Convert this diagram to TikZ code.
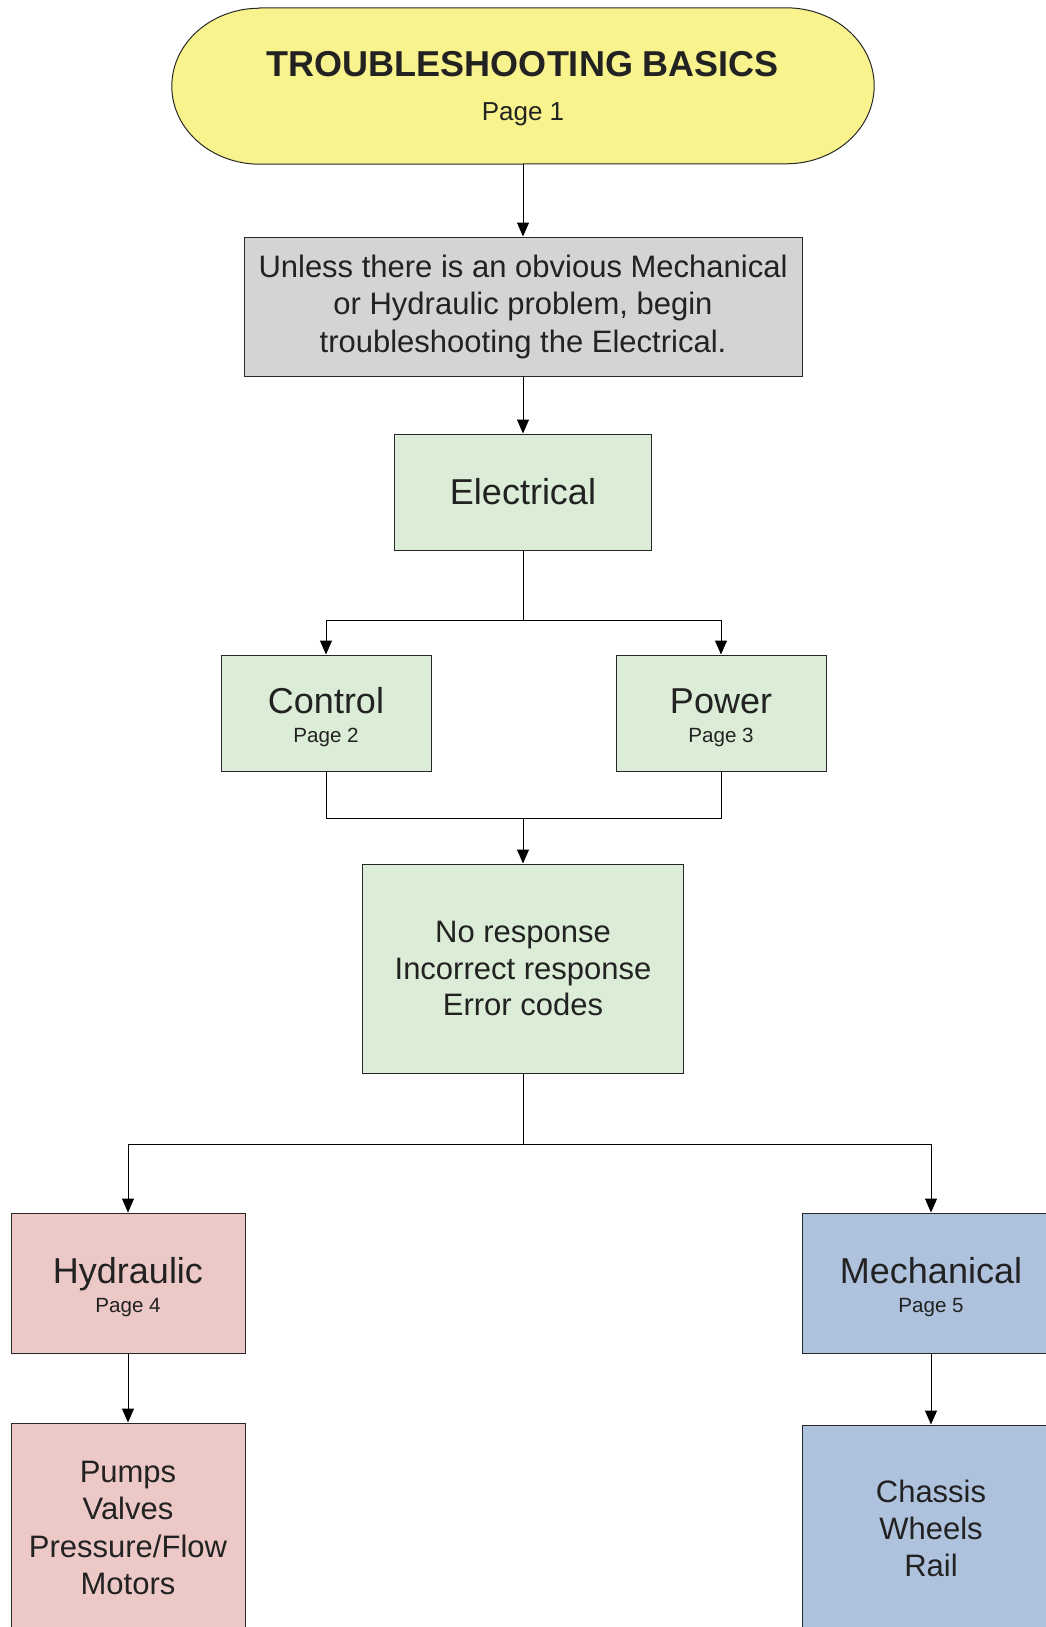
\documentclass[tikz,border=0pt]{standalone}
\usepackage{fontspec}
\setmainfont{Liberation Sans}
\usetikzlibrary{arrows.meta}
\definecolor{termfill}{RGB}{248,243,140}
\definecolor{notefill}{RGB}{212,212,212}
\definecolor{elecfill}{RGB}{220,237,215}
\definecolor{hydfill}{RGB}{236,200,198}
\definecolor{mechfill}{RGB}{175,194,221}
\definecolor{ink}{RGB}{34,34,34}
\definecolor{edge}{RGB}{40,40,40}
\tikzset{
  box/.style={draw=edge, line width=1pt, rectangle, inner sep=0pt, align=center, text=ink},
  link/.style={draw=black, line width=1pt},
  arr/.style={link, -{Triangle[width=12pt,length=14pt]}},
  bigtxt/.style={font=\fontsize{36}{43}\selectfont},
  bodytxt/.style={font=\fontsize{31}{37.5}\selectfont},
  % heading plus a small page reference underneath
  titled/.style={font=\fontsize{36}{29}\selectfont},
}
\newcommand{\pagetag}[1]{\fontsize{20.6}{25}\selectfont #1}
\newcommand{\headstrut}{\rule{0pt}{34pt}}
\begin{document}
\begin{tikzpicture}[x=1pt, y=-1pt]
\clip (0,0) rectangle (1046,1627);
\fill[white] (0,0) rectangle (1046,1627);

% start terminal
\node[inner sep=0pt, minimum width=702pt, minimum height=156pt]
  (term) at (523,86) {};
\draw[draw=edge, line width=1pt, fill=termfill]
  ([xshift=88pt]term.north west) -- ([xshift=-88pt]term.north east)
  arc[start angle=90, end angle=-90, x radius=88pt, y radius=78pt]
  -- ([xshift=88pt]term.south west)
  arc[start angle=270, end angle=90, x radius=88pt, y radius=78pt] -- cycle;
\node[align=center, text=ink, inner sep=0pt, font=\fontsize{36}{43.5}\selectfont]
  (termtext) at ([yshift=-2.5pt]term.center)
  {\bfseries TROUBLESHOOTING BASICS\\
   \fontsize{26}{30}\selectfont\mdseries Page 1};

% boxes
\node[box, fill=notefill, minimum width=558pt, minimum height=139pt, bodytxt]
  (note) at (523,306.5)
  {Unless there is an obvious Mechanical\\ or Hydraulic problem, begin\\ troubleshooting the Electrical.};
\node[box, fill=elecfill, minimum width=257pt, minimum height=116pt, bigtxt]
  (elec) at (523,492) {Electrical};
\node[box, fill=elecfill, minimum width=210pt, minimum height=116pt, titled]
  (ctrl) at (326,713) {\headstrut Control\\ \pagetag{Page 2}};
\node[box, fill=elecfill, minimum width=210pt, minimum height=116pt, titled]
  (pwr) at (721,713) {\headstrut Power\\ \pagetag{Page 3}};
\node[box, fill=elecfill, minimum width=321pt, minimum height=209pt, font=\fontsize{31}{36.5}\selectfont]
  (resp) at (523,968.5) {No response\\ Incorrect response\\ Error codes};
\node[box, fill=hydfill, minimum width=234pt, minimum height=140pt, titled]
  (hyd) at (128,1283) {\headstrut Hydraulic\\ \pagetag{Page 4}};
\node[box, fill=mechfill, minimum width=258pt, minimum height=140pt, titled]
  (mech) at (931,1283) {\headstrut Mechanical\\ \pagetag{Page 5}};
\node[box, fill=hydfill, minimum width=234pt, minimum height=210pt, bodytxt]
  (hydparts) at (128,1528) {Pumps\\ Valves\\ Pressure/Flow\\ Motors};
\node[box, fill=mechfill, minimum width=258pt, minimum height=206pt, font=\fontsize{31}{37}\selectfont]
  (mechparts) at (931,1528) {Chassis\\ Wheels\\ Rail};

% junction points
\coordinate (split1) at (523,620);
\coordinate (merge1) at (523,818);
\coordinate (split2) at (523,1144);

% connectors
\draw[arr] (term) -- (note);
\draw[arr] (note) -- (elec);
\draw[link] (elec) -- (split1);
\draw[arr] (split1) -| (ctrl);
\draw[arr] (split1) -| (pwr);
\draw[link] (ctrl) |- (merge1);
\draw[link] (pwr) |- (merge1);
\draw[arr] (merge1) -- (resp);
\draw[link] (resp) -- (split2);
\draw[arr] (split2) -| (hyd);
\draw[arr] (split2) -| (mech);
\draw[arr] (hyd) -- (hydparts);
\draw[arr] (mech) -- (mechparts);
\end{tikzpicture}
\end{document}
